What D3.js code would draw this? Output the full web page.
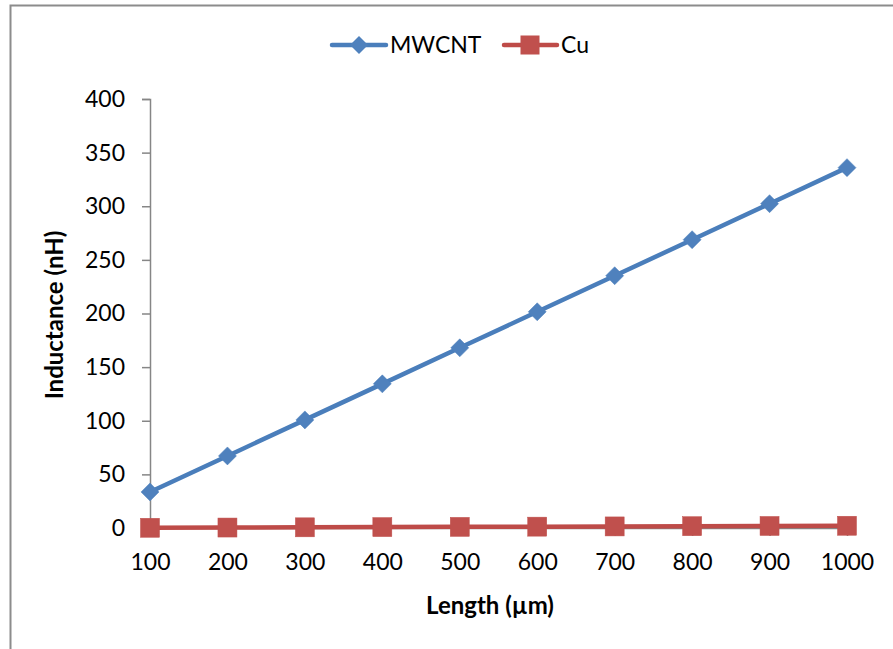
<!DOCTYPE html>
<html>
<head>
<meta charset="utf-8">
<script src="https://cdn.jsdelivr.net/npm/d3@7"></script>
<style>
  html, body { margin: 0; padding: 0; background: #fff; }
  svg { display: block; }
  text { font-family: Lato, "Open Sans", sans-serif; fill: #000; }
</style>
</head>
<body>
<svg id="chart" width="893" height="649"></svg>
<script>
// Interconnect length (µm)
const lengths = [100, 200, 300, 400, 500, 600, 700, 800, 900, 1000];
// Inductance (nH) per series
const mwcnt = [33.6, 67.2, 100.8, 134.4, 168.0, 201.6, 235.2, 268.8, 302.4, 336.0];
const cu = [0.21, 0.42, 0.63, 0.84, 1.05, 1.26, 1.47, 1.68, 1.89, 2.1];
const yTicks = [0, 50, 100, 150, 200, 250, 300, 350, 400];
const seriesNames = ["MWCNT", "Cu"];

const svg = d3.select("#chart");
const W = 893, H = 649;

// outer chart frame
svg.append("rect")
  .attr("x", 10.5).attr("y", 5.5)
  .attr("width", W + 20).attr("height", H + 20)
  .attr("fill", "none").attr("stroke", "#8c8c8c").attr("stroke-width", 2);

const plot = { left: 150, right: 847, top: 99, bottom: 528 };

const x = d3.scalePoint().domain(lengths).range([plot.left, plot.right]);
const y = d3.scaleLinear().domain([0, 400]).range([plot.bottom, plot.top]);

const axisColor = "#868686";

// y axis
const yAxis = svg.append("g")
  .attr("transform", `translate(${plot.left},0)`)
  .call(d3.axisLeft(y).tickValues(yTicks).tickSize(8).tickPadding(17));
yAxis.select(".domain").attr("stroke", axisColor).attr("stroke-width", 1.5);
yAxis.selectAll(".tick line").attr("stroke", axisColor).attr("stroke-width", 1.5);
yAxis.selectAll(".tick text")
  .style("font-family", "Lato, sans-serif").style("font-size", "23px").attr("fill", "#000");

// x axis
const xAxis = svg.append("g")
  .attr("transform", `translate(0,${plot.bottom})`)
  .call(d3.axisBottom(x).tickSize(8).tickPadding(18).tickSizeOuter(0));
xAxis.select(".domain").attr("stroke", axisColor).attr("stroke-width", 1.5);
xAxis.selectAll(".tick line").attr("stroke", axisColor).attr("stroke-width", 1.5);
xAxis.selectAll(".tick text")
  .style("font-family", "Lato, sans-serif").style("font-size", "23px").attr("fill", "#000");

// axis titles
svg.append("text")
  .attr("x", 490).attr("y", 614)
  .attr("text-anchor", "middle")
  .style("font-size", "24px").style("font-weight", "bold")
  .text("Length (µm)");

svg.append("text")
  .attr("transform", "translate(63,315) rotate(-90)")
  .attr("text-anchor", "middle")
  .style("font-size", "24px").style("font-weight", "bold")
  .text("Inductance (nH)");

const line = d3.line().x((d, i) => x(lengths[i])).y(d => y(d));

// Cu series
svg.append("path")
  .datum(cu)
  .attr("d", line)
  .attr("fill", "none").attr("stroke", "#BE4B48").attr("stroke-width", 4.5)
  .attr("stroke-linejoin", "round");
svg.append("g").selectAll("rect")
  .data(cu).join("rect")
  .attr("x", (d, i) => x(lengths[i]) - 9.5)
  .attr("y", d => y(d) - 9.5)
  .attr("width", 19).attr("height", 19)
  .attr("fill", "#C0504D").attr("stroke", "#C0504D").attr("stroke-width", 0.5);

// MWCNT series
svg.append("path")
  .datum(mwcnt)
  .attr("d", line)
  .attr("fill", "none").attr("stroke", "#4A7EBB").attr("stroke-width", 4.5)
  .attr("stroke-linejoin", "round");
const diamond = "M0,-9L9,0L0,9L-9,0Z";
svg.append("g").selectAll("path")
  .data(mwcnt).join("path")
  .attr("d", diamond)
  .attr("transform", (d, i) => `translate(${x(lengths[i])},${y(d)})`)
  .attr("fill", "#4F81BD").attr("stroke", "#4F81BD").attr("stroke-width", 0.5);

// legend
const legend = svg.append("g");
const legY = 45;
// MWCNT entry
legend.append("line")
  .attr("x1", 332).attr("x2", 386).attr("y1", legY).attr("y2", legY)
  .attr("stroke", "#4A7EBB").attr("stroke-width", 4.5).attr("stroke-linecap", "round");
legend.append("path").attr("d", diamond)
  .attr("transform", `translate(359,${legY})`).attr("fill", "#4F81BD");
legend.append("text").attr("x", 390).attr("y", legY + 8)
  .style("font-size", "23px").text(seriesNames[0]);
// Cu entry
legend.append("line")
  .attr("x1", 504).attr("x2", 557).attr("y1", legY).attr("y2", legY)
  .attr("stroke", "#BE4B48").attr("stroke-width", 4.5).attr("stroke-linecap", "round");
legend.append("rect")
  .attr("x", 530 - 9.5).attr("y", legY - 9.5).attr("width", 19).attr("height", 19)
  .attr("fill", "#C0504D");
legend.append("text").attr("x", 561).attr("y", legY + 8)
  .style("font-size", "23px").text(seriesNames[1]);
</script>
</body>
</html>
